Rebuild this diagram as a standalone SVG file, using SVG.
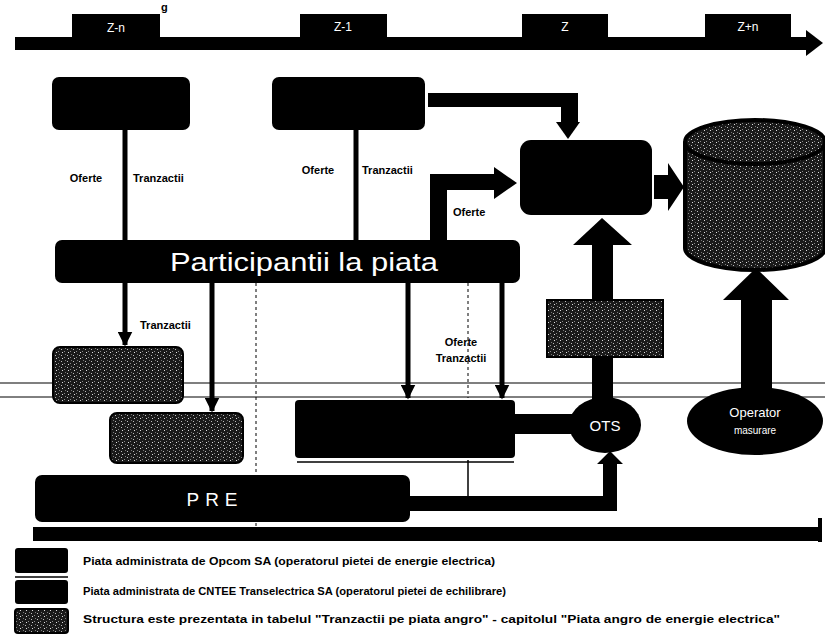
<svg xmlns="http://www.w3.org/2000/svg" width="825" height="634" viewBox="0 0 825 634">
<defs>
<style>
.blk{fill:#000}
.tex{fill:url(#speck);stroke:#000;stroke-width:2}
.lbl{font-family:"Liberation Sans",Arial,sans-serif;font-weight:bold;font-size:11px;fill:#000}
.wt{font-family:"Liberation Sans",Arial,sans-serif;fill:#fff}
.ln{stroke:#000;stroke-width:5;fill:none}
.thin{stroke:#000;stroke-width:1.5;fill:none}
.dash{stroke:#000;stroke-width:1;stroke-dasharray:3 3;fill:none}
.leg{font-family:"Liberation Sans",Arial,sans-serif;font-weight:bold;font-size:10.5px;fill:#000}
</style>
<pattern id="speck" width="6" height="6" patternUnits="userSpaceOnUse">
<rect width="6" height="6" fill="#1a1a1a"/>
<rect x="1" y="1" width="1" height="1" fill="#bbb"/>
<rect x="4" y="3" width="1" height="1" fill="#888"/>
<rect x="2" y="4" width="1" height="1" fill="#ddd"/>
<rect x="5" y="0" width="1" height="1" fill="#777"/>
</pattern>
<marker id="ah" viewBox="0 0 10 10" refX="9" refY="5" markerWidth="3" markerHeight="3" orient="auto">
<path d="M0,0 L10,5 L0,10 z" fill="#000"/>
</marker>
</defs>
<rect width="825" height="634" fill="#fff"/>
<text x="161" y="11" font-family="Liberation Sans,Arial,sans-serif" font-weight="bold" font-size="11" fill="#000">g</text>

<g id="timeline">
<rect x="15" y="37" width="795" height="13" class="blk"/>
<path d="M806,30 L823,43 L806,56 z" class="blk"/>
</g>
<g id="t-zn"><rect x="72" y="14" width="88" height="25" class="blk"/><text x="116" y="32" class="wt" font-size="12" text-anchor="middle">Z-n</text></g>
<g id="t-z1"><rect x="300" y="14" width="87" height="24" class="blk"/><text x="343" y="31" class="wt" font-size="12" text-anchor="middle">Z-1</text></g>
<g id="t-z"><rect x="522" y="14" width="86" height="24" class="blk"/><text x="565" y="31" class="wt" font-size="12" text-anchor="middle">Z</text></g>
<g id="t-zp"><rect x="705" y="14" width="86" height="24" class="blk"/><text x="748" y="31" class="wt" font-size="12" text-anchor="middle">Z+n</text></g>

<g id="connectors">
<line x1="125" y1="128" x2="125" y2="242" class="ln"/>
<line x1="356" y1="128" x2="356" y2="242" class="ln"/>
<rect x="428" y="93" width="150" height="14" class="blk"/>
<rect x="561" y="93" width="17" height="31" class="blk"/>
<path d="M556,122 L580,122 L568,139 z" class="blk"/>
<path d="M430,242 V174 H494 V167 L517,183 L494,199 V190 H447 V242 z" class="blk"/>
<path d="M654,175 H668 V163 L684,187 L668,211 V199 H654 z" class="blk"/>
<line x1="125" y1="282" x2="125" y2="345" class="ln" marker-end="url(#ah)"/>
<line x1="212" y1="282" x2="212" y2="411" class="ln" marker-end="url(#ah)"/>
<line x1="408" y1="282" x2="408" y2="398" class="ln" marker-end="url(#ah)"/>
<line x1="502" y1="282" x2="502" y2="398" class="ln" marker-end="url(#ah)"/>
<path d="M592,400 V245 H573 L602,218 L632,245 H613 V400 z" class="blk"/>
<path d="M741,392 V300 H723 L756,268 L789,300 H772 V392 z" class="blk"/>
<rect x="513" y="414" width="60" height="20" class="blk"/>
<path d="M410,496 H603 V464 H597 L610,451 L623,464 H617 V511 H410 z" class="blk"/>
<line x1="468" y1="460" x2="468" y2="497" class="thin"/>
<line x1="256" y1="283" x2="256" y2="528" class="dash"/>
<line x1="468" y1="283" x2="468" y2="398" class="dash"/>
<line x1="0" y1="383" x2="825" y2="383" stroke="#000" stroke-width="1.2"/>
<line x1="0" y1="397" x2="825" y2="397" stroke="#000" stroke-width="1"/>
</g>
<text x="86" y="182" class="lbl" text-anchor="middle">Oferte</text>
<text x="133" y="182" class="lbl">Tranzactii</text>
<text x="318" y="174" class="lbl" text-anchor="middle">Oferte</text>
<text x="362" y="174" class="lbl">Tranzactii</text>
<text x="453" y="216" class="lbl">Oferte</text>
<text x="140" y="329" class="lbl">Tranzactii</text>
<text x="461" y="346" class="lbl" text-anchor="middle">Oferte</text>
<text x="461" y="362" class="lbl" text-anchor="middle">Tranzactii</text>

<g id="box1"><rect x="52" y="77" width="138" height="53" rx="7" class="blk"/></g>
<g id="box2"><rect x="272" y="77" width="153" height="53" rx="7" class="blk"/></g>
<g id="box3"><rect x="520" y="140" width="132" height="75" rx="11" class="blk"/></g>
<g id="cylinder">
<path d="M685,142 V248 A70,22 0 0 0 825,248 V142" fill="url(#speck)" stroke="#000" stroke-width="4"/>
<ellipse cx="755" cy="142" rx="70" ry="22" fill="url(#speck)" stroke="#000" stroke-width="4"/>
</g>
<g id="participanti">
<rect x="55" y="240" width="465" height="43" rx="7" class="blk"/>
<text x="170" y="271" class="wt" font-size="26" textLength="268" lengthAdjust="spacingAndGlyphs">Participantii la piata</text>
</g>
<g id="box4"><rect x="53" y="347" width="130" height="56" rx="7" class="tex"/></g>
<g id="box5"><rect x="110" y="413" width="133" height="50" rx="7" class="tex"/></g>
<g id="box6"><rect x="295" y="400" width="220" height="58" rx="4" class="blk"/><line x1="297" y1="462" x2="514" y2="462" class="thin"/></g>
<g id="box7"><rect x="547" y="300" width="116" height="57" class="tex"/></g>
<g id="ots"><ellipse cx="605" cy="425" rx="36" ry="28" class="blk"/><text x="605" y="431" class="wt" font-size="15" text-anchor="middle">OTS</text></g>
<g id="operator"><ellipse cx="755" cy="421" rx="68" ry="34" class="blk"/>
<text x="755" y="417" class="wt" font-size="13" text-anchor="middle">Operator</text>
<text x="755" y="434" class="wt" font-size="10" text-anchor="middle">masurare</text></g>
<g id="pre"><rect x="35" y="475" width="375" height="47" rx="7" class="blk"/>
<text x="215" y="506" class="wt" font-size="19" text-anchor="middle" letter-spacing="6">PRE</text></g>
<g id="bottom-bar"><rect x="33" y="527" width="787" height="14" class="blk"/><rect x="818" y="518" width="4" height="24" class="blk"/></g>

<g id="legend">
<rect x="15" y="548" width="53" height="25" rx="3" class="blk"/>
<line x1="15" y1="577" x2="68" y2="577" class="thin"/>
<rect x="15" y="580" width="53" height="24" rx="3" class="blk"/>
<rect x="15" y="609" width="53" height="24" rx="3" class="tex"/>
<text x="83" y="565" class="leg" textLength="412" lengthAdjust="spacingAndGlyphs">Piata administrata de Opcom SA (operatorul pietei de energie electrica)</text>
<text x="83" y="595" class="leg" textLength="423" lengthAdjust="spacingAndGlyphs">Piata administrata de CNTEE Transelectrica SA (operatorul pietei de echilibrare)</text>
<text x="83" y="623" class="leg" textLength="697" lengthAdjust="spacingAndGlyphs">Structura este prezentata in tabelul "Tranzactii pe piata angro" - capitolul "Piata angro de energie electrica"</text>
</g>
</svg>
